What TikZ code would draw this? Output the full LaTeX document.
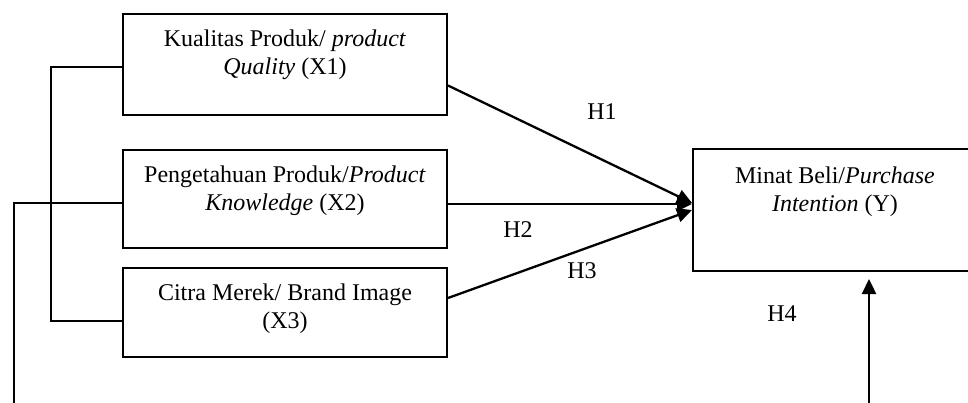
\documentclass[tikz,border=0pt]{standalone}
\usepackage{fontspec}
\setmainfont{Liberation Serif}
\usetikzlibrary{arrows.meta,calc}
\begin{document}
\begin{tikzpicture}[x=1pt,y=-1pt,
  box/.style={draw,line width=2pt,rectangle,inner sep=0pt},
  txt/.style={font=\fontsize{24}{27.7}\selectfont,align=center,inner sep=0pt,anchor=north},
  lbl/.style={font=\fontsize{24}{27.7}\selectfont,inner sep=0pt},
  conn/.style={line width=2pt},
  arr/.style={line width=2.3pt,-{Triangle[length=15pt,width=14pt]}}]
\useasboundingbox (0,0) rectangle (968,403);
\clip (0,0) rectangle (968,403);
% boxes
\node[box,minimum width=324pt,minimum height=101pt] (b1) at (285,64.5) {};
\node[box,minimum width=324pt,minimum height=98pt] (b2) at (285,199) {};
\node[box,minimum width=324pt,minimum height=89pt] (b3) at (285,312.5) {};
\node[box,minimum width=284pt,minimum height=122pt] (by) at (835,210) {};
% texts
\node[txt] (t1) at (285,30) {Kualitas Produk/ \textit{product}\\\textit{Quality} (X1)};
\node[txt] (t2) at (285,166) {Pengetahuan Produk/\textit{Product}\\\textit{Knowledge} (X2)};
\node[txt] (t3) at (285,283.5) {Citra Merek/ Brand Image\\(X3)};
\node[txt] (ty) at (835,166.5) {Minat Beli/\textit{Purchase}\\\textit{Intention} (Y)};
% labels
\node[lbl] (h1) at (602,112) {H1};
\node[lbl] (h2) at (518,230) {H2};
\node[lbl] (h3) at (582,271) {H3};
\node[lbl] (h4) at (782,314) {H4};
% arrows
\draw[arr] ([yshift=-21pt]b1.east) -- ([yshift=7pt]by.west);
\draw[arr] ([yshift=-5pt]b2.east) -- ([yshift=6pt]by.west);
\draw[arr] ([yshift=14.5pt]b3.east) -- (by.west);
% bracket
\coordinate (c1) at (51,67);
\coordinate (c2) at (51,321);
\draw[conn] ([yshift=-2.5pt]b1.west) -- (c1) -- (c2) -- ([yshift=-8.5pt]b3.west);
% long line
\coordinate (c3) at (14,203);
\coordinate (c4) at (14,410);
\draw[conn] ([yshift=-4pt]b2.west) -- (c3) -- (c4);
% up arrow
\coordinate (c5) at (869,410);
\draw[arr] (c5) -- ([xshift=34pt,yshift=-7pt]by.south);
\end{tikzpicture}
\end{document}
